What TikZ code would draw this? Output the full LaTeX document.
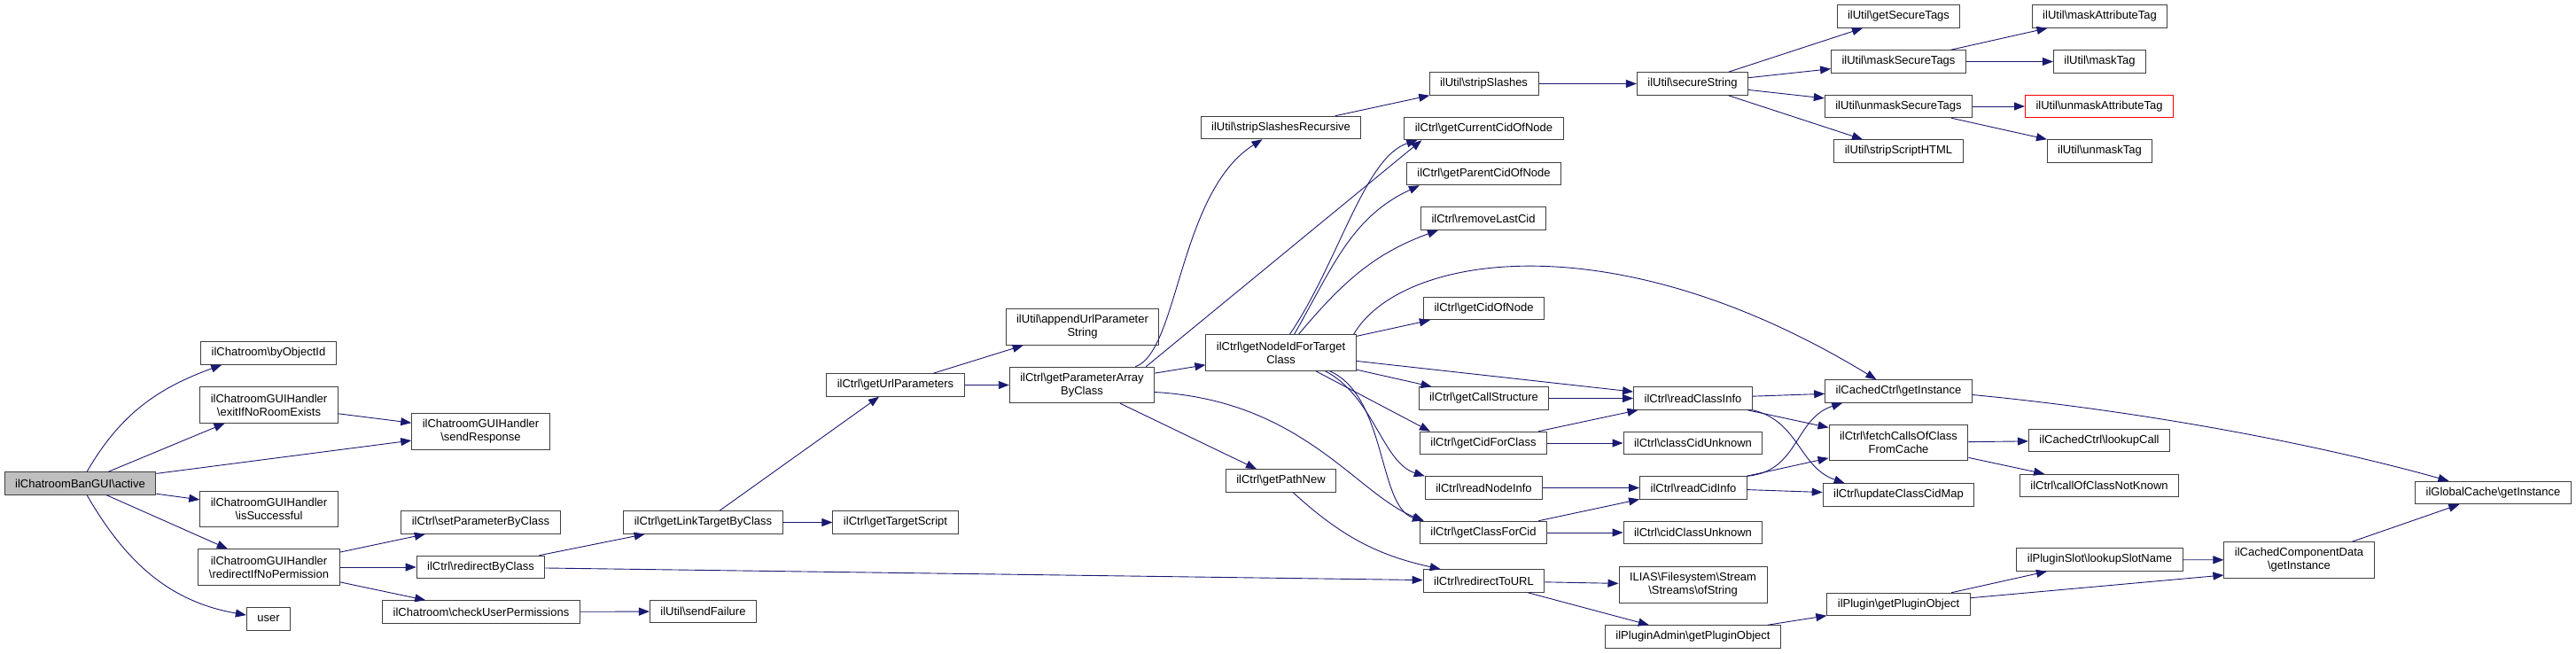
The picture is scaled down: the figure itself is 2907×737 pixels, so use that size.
\documentclass[tikz,border=0pt]{standalone}
\usepackage{fontspec}
\setmainfont{Liberation Sans}
\usepackage{xcolor}
\usepackage{tikz}
\usetikzlibrary{arrows.meta}
\definecolor{callblue}{HTML}{191970}
\definecolor{boxgray}{HTML}{404040}
\definecolor{rootgray}{HTML}{BFBFBF}
\newcommand{\bsl}{\textbackslash}

\begin{document}
\begin{tikzpicture}[x=1pt, y=1pt,
  func/.style={draw=boxgray, line width=1pt, rectangle, fill=white, font=\fontsize{13}{15}\selectfont, inner xsep=12pt, inner ysep=2pt, minimum height=25.5pt, align=center},
  twoline/.style={func, minimum height=40.5pt},
  callarrow/.style={callblue, line width=0.9pt, -{Triangle[length=12pt,width=9pt]}}]
\useasboundingbox (0,0) rectangle (2907,737);

\node[func, fill=rootgray] (active) at (90.5,191.5) {ilChatroomBanGUI\bsl active};
\node[func] (byobj) at (303,338.5) {ilChatroom\bsl byObjectId};
\node[twoline] (exitroom) at (303.5,280) {ilChatroomGUIHandler\\\bsl exitIfNoRoomExists};
\node[twoline] (sendresp) at (542.5,250) {ilChatroomGUIHandler\\\bsl sendResponse};
\node[twoline] (issucc) at (303.5,162.5) {ilChatroomGUIHandler\\\bsl isSuccessful};
\node[twoline] (redirperm) at (303.5,97) {ilChatroomGUIHandler\\\bsl redirectIfNoPermission};
\node[func] (user) at (303,38.5) {user};
\node[func] (setparam) at (542.5,147.5) {ilCtrl\bsl setParameterByClass};
\node[func] (redirclass) at (542.5,97) {ilCtrl\bsl redirectByClass};
\node[func] (checkperm) at (543,46.5) {ilChatroom\bsl checkUserPermissions};
\node[func] (sendfail) at (793.5,47) {ilUtil\bsl sendFailure};
\node[func] (linktarget) at (793.5,147.5) {ilCtrl\bsl getLinkTargetByClass};
\node[func] (targetscript) at (1010.5,147.5) {ilCtrl\bsl getTargetScript};
\node[func] (urlparams) at (1010.5,302.5) {ilCtrl\bsl getUrlParameters};
\node[twoline] (appendurl) at (1221.5,368) {ilUtil\bsl appendUrlParameter\\String};
\node[twoline] (paramarray) at (1221,302.5) {ilCtrl\bsl getParameterArray\\ByClass};
\node[func] (stripsrec) at (1445.5,593) {ilUtil\bsl stripSlashesRecursive};
\node[twoline] (nodeid) at (1445.5,339) {ilCtrl\bsl getNodeIdForTarget\\Class};
\node[func] (pathnew) at (1445.5,194.5) {ilCtrl\bsl getPathNew};
\node[func] (strips) at (1674.5,642.5) {ilUtil\bsl stripSlashes};
\node[func] (securestr) at (1910,642.5) {ilUtil\bsl secureString};
\node[func] (curcid) at (1674.5,592) {ilCtrl\bsl getCurrentCidOfNode};
\node[func] (parentcid) at (1674.5,541) {ilCtrl\bsl getParentCidOfNode};
\node[func] (removelast) at (1674,490.5) {ilCtrl\bsl removeLastCid};
\node[func] (cidofnode) at (1674.5,389) {ilCtrl\bsl getCidOfNode};
\node[func] (callstruct) at (1674.5,287.5) {ilCtrl\bsl getCallStructure};
\node[func] (cidforclass) at (1674,237) {ilCtrl\bsl getCidForClass};
\node[func] (readnode) at (1674.5,186.5) {ilCtrl\bsl readNodeInfo};
\node[func] (classforcid) at (1674,136) {ilCtrl\bsl getClassForCid};
\node[func] (redirurl) at (1674.5,81.5) {ilCtrl\bsl redirectToURL};
\node[func] (readclass) at (1910.5,287.5) {ilCtrl\bsl readClassInfo};
\node[func] (classcidunk) at (1910.5,237) {ilCtrl\bsl classCidUnknown};
\node[func] (readcid) at (1911,186.5) {ilCtrl\bsl readCidInfo};
\node[func] (cidclassunk) at (1910.5,136) {ilCtrl\bsl cidClassUnknown};
\node[twoline] (ofstring) at (1910.5,77) {ILIAS\bsl Filesystem\bsl Stream\\\bsl Streams\bsl ofString};
\node[func] (adminplugin) at (1910.5,18.5) {ilPluginAdmin\bsl getPluginObject};
\node[func] (securetags) at (2142.5,718.5) {ilUtil\bsl getSecureTags};
\node[func] (masksecure) at (2142.5,667.5) {ilUtil\bsl maskSecureTags};
\node[func] (unmasksecure) at (2142.5,617) {ilUtil\bsl unmaskSecureTags};
\node[func] (stripscript) at (2142.5,566.5) {ilUtil\bsl stripScriptHTML};
\node[func] (maskattr) at (2369.5,718.5) {ilUtil\bsl maskAttributeTag};
\node[func] (masktag) at (2369.5,667.5) {ilUtil\bsl maskTag};
\node[func, draw=red] (unmaskattr) at (2369,617) {ilUtil\bsl unmaskAttributeTag};
\node[func] (unmasktag) at (2369.5,566.5) {ilUtil\bsl unmaskTag};
\node[func] (cachedinst) at (2142.5,295.5) {ilCachedCtrl\bsl getInstance};
\node[twoline] (fetchcalls) at (2142.5,237.5) {ilCtrl\bsl fetchCallsOfClass\\FromCache};
\node[func] (updatemap) at (2142.5,178.5) {ilCtrl\bsl updateClassCidMap};
\node[func] (lookupcall) at (2369,240) {ilCachedCtrl\bsl lookupCall};
\node[func] (callnotknown) at (2369,189) {ilCtrl\bsl callOfClassNotKnown};
\node[func] (plugobj) at (2142.5,55) {ilPlugin\bsl getPluginObject};
\node[func] (slotname) at (2369.5,105.5) {ilPluginSlot\bsl lookupSlotName};
\node[twoline] (compdata) at (2594.5,105) {ilCachedComponentData\\\bsl getInstance};
\node[func] (globalcache) at (2813.5,181) {ilGlobalCache\bsl getInstance};

\draw[callarrow] (active) to[out=60,in=200] ([xshift=24pt]byobj.south west);
\draw[callarrow] (active) -- (exitroom);
\draw[callarrow] (active) -- (sendresp);
\draw[callarrow] (active) -- (issucc);
\draw[callarrow] (active) -- (redirperm);
\draw[callarrow] (active) to[out=-60,in=170] (user);
\draw[callarrow] (exitroom) -- (sendresp);
\draw[callarrow] (redirperm) -- (setparam);
\draw[callarrow] (redirperm) -- (redirclass);
\draw[callarrow] (redirperm) -- (checkperm);
\draw[callarrow] (redirclass) -- (linktarget);
\draw[callarrow] (redirclass) -- (redirurl);
\draw[callarrow] (checkperm) -- (sendfail);
\draw[callarrow] (linktarget) -- (urlparams);
\draw[callarrow] (linktarget) -- (targetscript);
\draw[callarrow] (urlparams) -- (appendurl);
\draw[callarrow] (urlparams) -- (paramarray);
\draw[callarrow] (paramarray) .. controls (1330,340) and (1330,520) .. (stripsrec);
\draw[callarrow] ([xshift=-10pt]paramarray.north east) -- ([xshift=20pt]curcid.south west);
\draw[callarrow] (paramarray) -- (nodeid);
\draw[callarrow] (paramarray) -- (pathnew);
\draw[callarrow] ([yshift=-8pt]paramarray.east) .. controls (1470,285) and (1530,180) .. ([xshift=5pt]classforcid.north west);
\draw[callarrow] (pathnew) to[bend right=15] ([xshift=20pt]redirurl.north west);
\draw[callarrow] ([xshift=10pt]nodeid.north) .. controls (1510,440) and (1540,560) .. ([xshift=15pt]curcid.south west);
\draw[callarrow] ([xshift=15pt]nodeid.north) to[out=60,in=205] ([xshift=15pt]parentcid.south west);
\draw[callarrow] ([xshift=20pt]nodeid.north) to[out=50,in=200] ([xshift=20pt]removelast.south west);
\draw[callarrow] ([xshift=-3pt]nodeid.north east) .. controls (1580,450) and (1820,490) .. ([xshift=-25pt]cachedinst.north);
\draw[callarrow] (nodeid) -- (cidofnode);
\draw[callarrow] (nodeid) -- (readclass);
\draw[callarrow] (nodeid) -- (callstruct);
\draw[callarrow] (nodeid) -- ([xshift=12pt]cidforclass.north west);
\draw[callarrow] ([xshift=50pt]nodeid.south) .. controls (1550,290) and (1560,215) .. (readnode.north west);
\draw[callarrow] ([xshift=55pt]nodeid.south) .. controls (1565,290) and (1555,165) .. ([xshift=4pt]classforcid.north west);
\draw[callarrow] (stripsrec) -- (strips);
\draw[callarrow] (strips) -- (securestr);
\draw[callarrow] (securestr) -- (securetags);
\draw[callarrow] (securestr) -- (masksecure);
\draw[callarrow] (securestr) -- (unmasksecure);
\draw[callarrow] (securestr) -- (stripscript);
\draw[callarrow] (masksecure) -- (maskattr);
\draw[callarrow] (masksecure) -- (masktag);
\draw[callarrow] (unmasksecure) -- (unmaskattr);
\draw[callarrow] (unmasksecure) -- (unmasktag);
\draw[callarrow] (callstruct) -- (readclass);
\draw[callarrow] (cidforclass) -- (readclass);
\draw[callarrow] (cidforclass) -- (classcidunk);
\draw[callarrow] (readnode) -- (readcid);
\draw[callarrow] (classforcid) -- (readcid);
\draw[callarrow] (classforcid) -- (cidclassunk);
\draw[callarrow] (redirurl) -- (ofstring);
\draw[callarrow] (redirurl) -- (adminplugin);
\draw[callarrow] (readclass) -- (cachedinst);
\draw[callarrow] (readclass) -- (fetchcalls);
\draw[callarrow] (readclass.south east) .. controls (2030,262) and (2030,210) .. ([xshift=25pt]updatemap.north west);
\draw[callarrow] (readcid.north east) .. controls (2030,205) and (2025,265) .. ([xshift=20pt]cachedinst.south west);
\draw[callarrow] (readcid) -- (fetchcalls);
\draw[callarrow] (readcid) -- (updatemap);
\draw[callarrow] (fetchcalls) -- (lookupcall);
\draw[callarrow] (fetchcalls) -- (callnotknown);
\draw[callarrow] ([yshift=-4pt]cachedinst.east) .. controls (2400,275) and (2600,240) .. ([xshift=-50pt]globalcache.north);
\draw[callarrow] (adminplugin) -- (plugobj);
\draw[callarrow] (plugobj) -- (slotname);
\draw[callarrow] (plugobj) -- ([yshift=-17pt]compdata.west);
\draw[callarrow] (slotname) -- (compdata);
\draw[callarrow] (compdata) -- (globalcache);
\end{tikzpicture}
\end{document}
